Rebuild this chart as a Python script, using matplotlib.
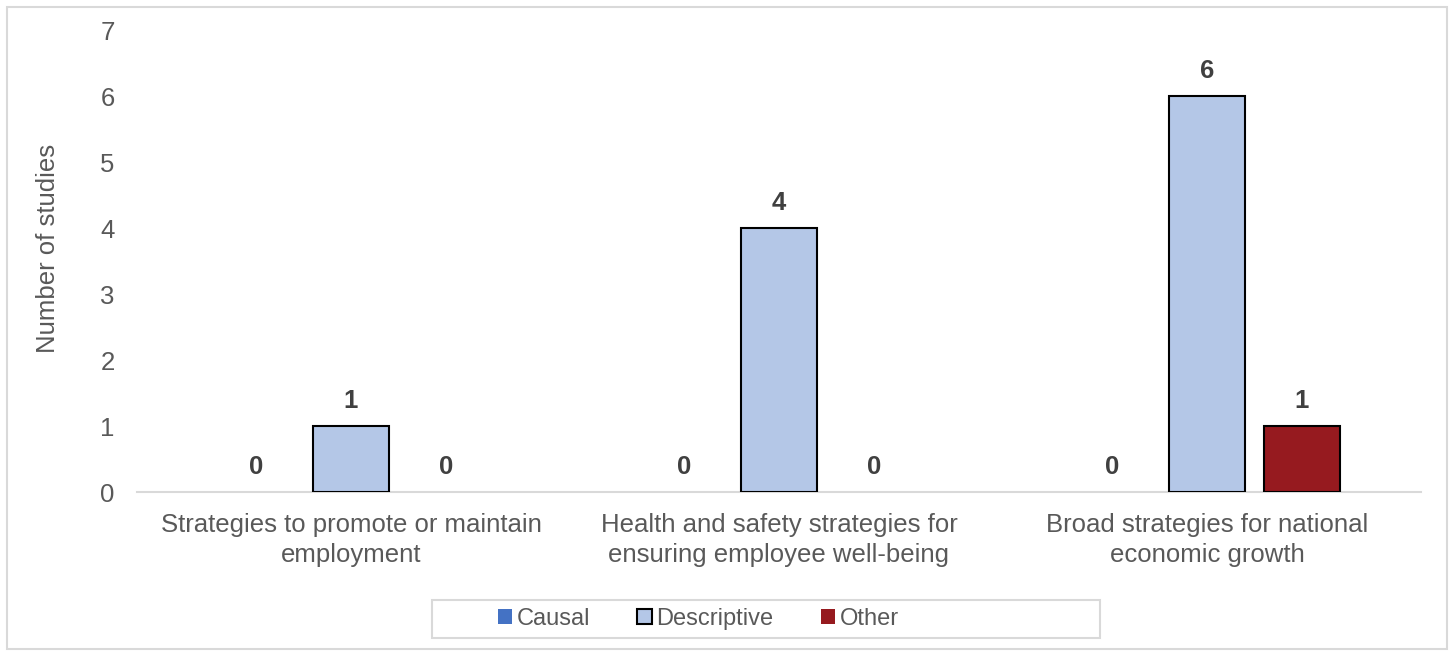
import numpy as np
import matplotlib
matplotlib.use("Agg")
import matplotlib.pyplot as plt
from matplotlib.patches import Rectangle

plt.rcParams["font.family"] = ["Liberation Sans", "DejaVu Sans"]

categories = [
    "Strategies to promote or maintain\nemployment",
    "Health and safety strategies for\nensuring employee well-being",
    "Broad strategies for national\neconomic growth",
]
series_names = ["Causal", "Descriptive", "Other"]
causal = [0, 0, 0]
descriptive = [1, 4, 6]
other = [0, 0, 1]

colors = ["#4472C4", "#B4C7E7", "#961A1F"]
edges = ["none", "black", "black"]
FS = 18.5
W, H = 1452, 653

fig = plt.figure(figsize=(W / 100, H / 100), dpi=100)
ax = fig.add_axes([137 / W, 1 - 492 / H, (1421 - 137) / W, (492 - 30) / H])

x = np.arange(len(categories))
width = 0.178
step = 0.222
for i, (name, vals) in enumerate(zip(series_names, [causal, descriptive, other])):
    pos = x + (i - 1) * step
    # zero-height bars get no outline
    lws = [1.5 if v > 0 else 0 for v in vals]
    ax.bar(pos, vals, width, color=colors[i], edgecolor=edges[i],
           linewidth=lws, label=name, zorder=3)
    for px, v in zip(pos, vals):
        ax.text(px, v + 0.2, f"{v}", ha="center", va="bottom",
                fontsize=FS, fontweight="bold", color="#404040")

ax.set_xlim(-0.5, len(categories) - 0.5)
ax.set_ylim(0, 7)
ax.set_yticks(range(0, 8))
ax.set_xticks(x)
ax.set_xticklabels(categories, fontsize=FS, color="#595959", linespacing=1.35)
ax.tick_params(axis="y", labelsize=FS, labelcolor="#595959", length=0, pad=16)
ax.tick_params(axis="x", length=0, pad=15)
for s in ["top", "right", "left"]:
    ax.spines[s].set_visible(False)
ax.spines["bottom"].set_color("#D9D9D9")
ax.spines["bottom"].set_linewidth(1.5)
ax.set_ylabel("Number of studies", fontsize=FS, color="#595959")
ax.yaxis.set_label_coords((60 - 137) / 1284, (492 - 248) / (492 - 30))

leg = fig.legend(loc="center left", bbox_to_anchor=(486 / W, 1 - 619 / H),
                 ncol=3, frameon=False, fontsize=17,
                 handlelength=0.6, handleheight=0.6, handletextpad=0.2,
                 columnspacing=2.0, borderpad=0.0)
for t in leg.get_texts():
    t.set_color("#595959")

# legend box
fig.patches.append(Rectangle((432 / W, 1 - 638 / H), 668 / W, 38 / H,
                             transform=fig.transFigure, fill=False,
                             edgecolor="#D9D9D9", linewidth=1.5))
# outer chart border
fig.patches.append(Rectangle((7 / W, 4 / H), 1440 / W, 642 / H,
                             transform=fig.transFigure, fill=False,
                             edgecolor="#D9D9D9", linewidth=1.5))

fig.savefig("out.png", dpi=100)
